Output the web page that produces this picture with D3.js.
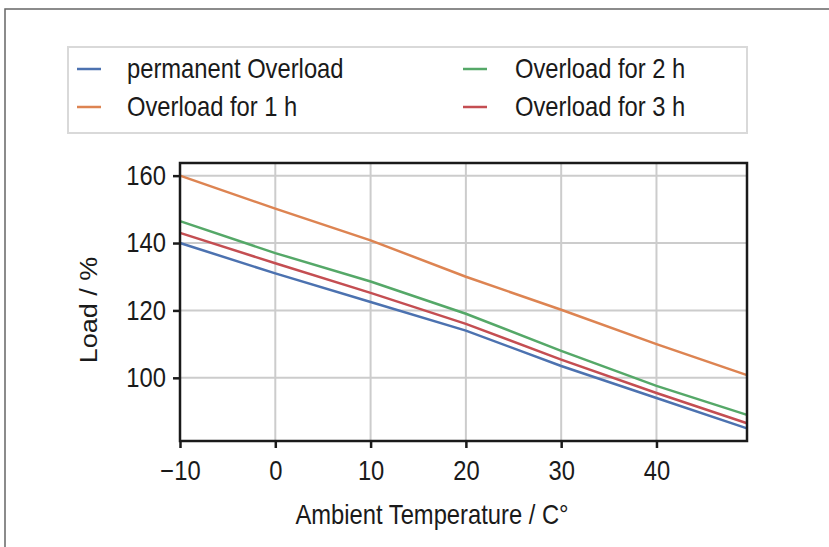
<!DOCTYPE html>
<html>
<head>
<meta charset="utf-8">
<script src="https://cdn.jsdelivr.net/npm/d3@7"></script>
<style>
  html, body { margin: 0; padding: 0; background: #fff; }
  svg { display: block; font-family: "Liberation Sans", Arial, sans-serif; }
</style>
</head>
<body>
<div id="chart"></div>
<script>
// Values.
const temps = [-10, 0, 10, 20, 30, 40, 49.5];
const permanent = [140, 131, 122.5, 114, 103.5, 94, 85];
const overload1h = [160, 150.2, 140.8, 130, 120.2, 110, 100.8];
const overload2h = [146.5, 137, 128.6, 119, 108, 97.6, 89];
const overload3h = [143, 134, 125.2, 116, 105.4, 95.5, 86.5];
const seriesNames = ["permanent Overload", "Overload for 1 h", "Overload for 2 h", "Overload for 3 h"];
const xTicks = [-10, 0, 10, 20, 30, 40];
const yTicks = [100, 120, 140, 160];

const colors = ["#4c72b0", "#dd8452", "#55a868", "#c44e52"];
const seriesValues = [permanent, overload1h, overload2h, overload3h];

const width = 829;
const height = 547;
const margin = {top: 163, right: 82, bottom: 106, left: 180};
const fontSize = 27;
const squeeze = 0.88; // the original text looks a bit condensed
const ink = "#1a1a1a";

const svg = d3.select("#chart")
    .append("svg")
    .attr("width", width)
    .attr("height", height);

// Outer frame (only top and left edges are in view).
svg.append("path")
    .attr("d", `M5,${height} L5,9 L${width},9`)
    .attr("fill", "none")
    .attr("stroke", "#666")
    .attr("stroke-width", 1.5);

const x = d3.scaleLinear()
    .domain(d3.extent(temps))
    .range([margin.left, width - margin.right]);

// matplotlib style 5% margins on y
const allVals = seriesValues.flat();
const yMin = d3.min(allVals), yMax = d3.max(allVals);
const pad = (yMax - yMin) * 0.05;
const y = d3.scaleLinear()
    .domain([yMin - pad, yMax + pad])
    .range([height - margin.bottom, margin.top]);

// Grid
svg.append("g")
    .selectAll("line")
    .data(xTicks)
    .join("line")
    .attr("x1", d => x(d)).attr("x2", d => x(d))
    .attr("y1", margin.top).attr("y2", height - margin.bottom)
    .attr("stroke", "#cccccc")
    .attr("stroke-width", 2);

svg.append("g")
    .selectAll("line")
    .data(yTicks)
    .join("line")
    .attr("x1", margin.left).attr("x2", width - margin.right)
    .attr("y1", d => y(d)).attr("y2", d => y(d))
    .attr("stroke", "#cccccc")
    .attr("stroke-width", 2);

// Lines
const line = d3.line()
    .x((d, i) => x(temps[i]))
    .y(d => y(d));

seriesValues.forEach((vals, k) => {
    svg.append("path")
        .datum(vals)
        .attr("d", line)
        .attr("fill", "none")
        .attr("stroke", colors[k])
        .attr("stroke-width", 2.5);
});

// Axes
const xAxis = svg.append("g")
    .attr("transform", `translate(0,${height - margin.bottom})`)
    .call(d3.axisBottom(x).tickValues(xTicks).tickSize(7).tickPadding(13)
        .tickFormat(d => d < 0 ? "\u2212" + Math.abs(d) : d));

const yAxis = svg.append("g")
    .attr("transform", `translate(${margin.left},0)`)
    .call(d3.axisLeft(y).tickValues(yTicks).tickSize(7));

[xAxis, yAxis].forEach(g => {
    g.select(".domain").remove();
    g.selectAll(".tick line").attr("stroke", ink).attr("stroke-width", 2.5);
    g.selectAll(".tick text").attr("fill", ink).attr("font-size", fontSize + "px")
        .attr("font-family", "'Liberation Sans', Arial, sans-serif");
});
xAxis.selectAll(".tick text").attr("transform", `scale(${squeeze},1)`);
yAxis.selectAll(".tick text")
    .attr("x", 0)
    .attr("transform", `translate(-14,0) scale(${squeeze},1)`);

// Spines
svg.append("rect")
    .attr("x", margin.left)
    .attr("y", margin.top)
    .attr("width", width - margin.right - margin.left)
    .attr("height", height - margin.bottom - margin.top)
    .attr("fill", "none")
    .attr("stroke", ink)
    .attr("stroke-width", 2.5);

// Axis labels
svg.append("text")
    .attr("transform", `translate(432,524) scale(${squeeze},1)`)
    .attr("text-anchor", "middle")
    .attr("font-size", fontSize + "px")
    .attr("fill", ink)
    .text("Ambient Temperature / C\u00b0");

svg.append("text")
    .attr("transform", `translate(97,310) rotate(-90) scale(1,${squeeze})`)
    .attr("text-anchor", "middle")
    .attr("font-size", fontSize + "px")
    .attr("fill", ink)
    .text("Load / %");

// Legend
const legend = svg.append("g");
legend.append("rect")
    .attr("x", 68).attr("y", 47)
    .attr("width", 679).attr("height", 86)
    .attr("fill", "#fff")
    .attr("stroke", "#d9d9d9")
    .attr("stroke-width", 2);

const colX = [77, 463];
const textX = [127, 515];
const rowY = [69, 107];
seriesNames.forEach((name, i) => {
    const col = Math.floor(i / 2);
    const cx = colX[col];
    const cy = rowY[i % 2];
    legend.append("line")
        .attr("x1", cx).attr("x2", cx + 24)
        .attr("y1", cy).attr("y2", cy)
        .attr("stroke", colors[i])
        .attr("stroke-width", 2.5);
    legend.append("text")
        .attr("transform", `translate(${textX[col]},${cy + 9}) scale(${squeeze},1)`)
        .attr("font-size", fontSize + "px")
        .attr("fill", ink)
        .text(name);
});
</script>
</body>
</html>
